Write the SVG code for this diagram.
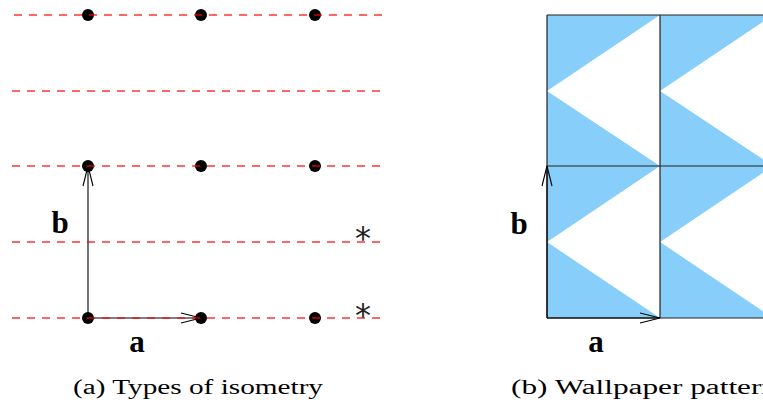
<svg xmlns="http://www.w3.org/2000/svg" width="763" height="406" viewBox="0 0 763 406">
<style>
.dash{stroke:#ff0000;stroke-opacity:0.8;stroke-width:1.3;stroke-dasharray:8 7;fill:none}
.dot{fill:#000}
.vec{stroke:#000;stroke-width:1.1;fill:none}
.grid{stroke:#222;stroke-width:1.2;fill:none}
.blue{fill:#87cefa}
.lbl{font-family:"Liberation Serif","Times New Roman",serif;font-weight:bold;font-size:31px;fill:#000;text-anchor:middle}
.cap{font-family:"Liberation Serif","Times New Roman",serif;font-size:20.5px;fill:#000}
.ast{font-family:"DejaVu Sans",sans-serif;font-size:32px;fill:#222;text-anchor:middle}
</style>
<defs>
<marker id="arr" markerUnits="userSpaceOnUse" markerWidth="24" markerHeight="14" viewBox="-22 -7 24 14" refX="0" refY="0" orient="auto">
<path d="M-20,-5 L0,0 L-20,5" fill="none" stroke="#000" stroke-width="1.1"/>
</marker>
</defs>
<rect width="763" height="406" fill="#fff"/>

<!-- Panel (a) -->
<g id="lattice-dots">
<g id="dot-r1c1"><circle class="dot" cx="88" cy="15" r="6"/></g>
<g id="dot-r1c2"><circle class="dot" cx="201" cy="15" r="6"/></g>
<g id="dot-r1c3"><circle class="dot" cx="315" cy="15" r="6"/></g>
<g id="dot-r3c1"><circle class="dot" cx="88" cy="166" r="6"/></g>
<g id="dot-r3c2"><circle class="dot" cx="201" cy="166" r="6"/></g>
<g id="dot-r3c3"><circle class="dot" cx="315" cy="166" r="6"/></g>
<g id="dot-r5c1"><circle class="dot" cx="88" cy="318" r="6"/></g>
<g id="dot-r5c2"><circle class="dot" cx="201" cy="318" r="6"/></g>
<g id="dot-r5c3"><circle class="dot" cx="315" cy="318" r="6"/></g>
</g>

<g id="connectors">
<line class="vec" x1="88" y1="318" x2="88" y2="166" marker-end="url(#arr)"/>
<line class="vec" x1="88" y1="318" x2="201" y2="318" marker-end="url(#arr)"/>
</g>

<g id="dashed-lines">
<line class="dash" x1="14" y1="15" x2="385" y2="15"/>
<line class="dash" x1="12" y1="91" x2="385" y2="91"/>
<line class="dash" x1="12" y1="166" x2="385" y2="166"/>
<line class="dash" x1="12" y1="242" x2="385" y2="242"/>
<line class="dash" x1="12" y1="318" x2="385" y2="318"/>
</g>

<g id="labels-a">
<text class="lbl" x="60" y="233">b</text>
<text class="lbl" x="137" y="352">a</text>
<text class="ast" x="363" y="249">*</text>
<text class="ast" x="363" y="326">*</text>
<text class="cap" x="73" y="394" textLength="250" lengthAdjust="spacingAndGlyphs">(a) Types of isometry</text>
</g>

<!-- Panel (b) -->
<g id="wallpaper">
<polygon class="blue" points="547,15 660,15 547,91"/>
<polygon class="blue" points="547,91 547,166 660,166"/>
<polygon class="blue" points="660,15 773,15 660,91"/>
<polygon class="blue" points="660,91 660,166 773,166"/>
<polygon class="blue" points="547,166 660,166 547,242"/>
<polygon class="blue" points="547,242 547,318 660,318"/>
<polygon class="blue" points="660,166 773,166 660,242"/>
<polygon class="blue" points="660,242 660,318 773,318"/>
<line class="grid" x1="547" y1="15" x2="763" y2="15"/>
<line class="grid" x1="547" y1="166" x2="763" y2="166"/>
<line class="grid" x1="547" y1="318" x2="763" y2="318"/>
<line class="grid" x1="547" y1="15" x2="547" y2="318"/>
<line class="grid" x1="660" y1="15" x2="660" y2="318"/>
</g>

<g id="connectors-b">
<line class="vec" x1="547" y1="318" x2="547" y2="166" marker-end="url(#arr)"/>
<line class="vec" x1="547" y1="318" x2="660" y2="318" marker-end="url(#arr)"/>
</g>

<g id="labels-b">
<text class="lbl" x="519" y="234">b</text>
<text class="lbl" x="596" y="352">a</text>
<text class="cap" x="511" y="394" textLength="266" lengthAdjust="spacingAndGlyphs">(b) Wallpaper pattern</text>
</g>
</svg>
